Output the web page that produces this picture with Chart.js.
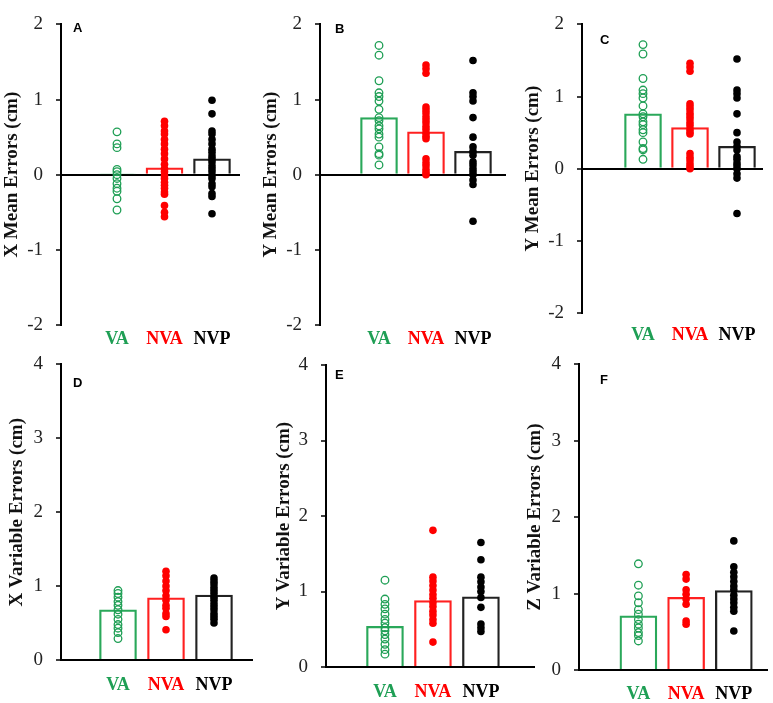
<!DOCTYPE html>
<html lang="en">
<head>
<meta charset="UTF-8">
<title>Mean and variable errors</title>
<style>
  body { margin: 0; background: #fff; }
  #wrap { position: relative; width: 773px; height: 703px; overflow: hidden; }
  #wrap canvas { position: absolute; }
</style>
</head>
<body>
<div id="wrap"></div>
<script src="https://cdn.jsdelivr.net/npm/chart.js@4.4.1/dist/chart.umd.min.js"></script>
<script>
// categories and colours
const categories = ['VA', 'NVA', 'NVP'];
const catColors = ['#1f9f55', '#ff0000', '#000000'];
const letters = ['A', 'B', 'C', 'D', 'E', 'F'];
const yTitles = ['X Mean Errors (cm)', 'Y Mean Errors (cm)', 'Y Mean Errors (cm)',
                 'X Variable Errors (cm)', 'Y Variable Errors (cm)', 'Z Variable Errors (cm)'];

// bar heights (group means)
const meanA = [0.01, 0.09, 0.21];
const meanB = [0.76, 0.57, 0.31];
const meanC = [0.76, 0.57, 0.31];
const meanD = [0.68, 0.84, 0.88];
const meanE = [0.54, 0.88, 0.93];
const meanF = [0.71, 0.95, 1.04];

// individual subjects
const vaA  = [0.57, 0.41, 0.36, 0.07, 0.04, 0, -0.05, -0.12, -0.18, -0.22, -0.32, -0.47];
const nvaA = [0.71, 0.65, 0.58, 0.54, 0.47, 0.41, 0.34, 0.28, 0.21, 0.14, 0.08, 0.04, -0.01, -0.05, -0.1, -0.14, -0.18, -0.23, -0.26, -0.41, -0.5, -0.56];
const nvpA = [0.99, 0.81, 0.58, 0.54, 0.47, 0.41, 0.34, 0.3, 0.25, 0.21, 0.17, 0.12, 0.08, 0.04, -0.01, -0.05, -0.12, -0.16, -0.25, -0.29, -0.52];

const vaB  = [1.72, 1.59, 1.25, 1.09, 1.04, 0.98, 0.87, 0.76, 0.72, 0.65, 0.61, 0.54, 0.5, 0.37, 0.28, 0.26, 0.13];
const nvaB = [1.46, 1.41, 1.35, 0.9, 0.86, 0.82, 0.77, 0.73, 0.69, 0.64, 0.6, 0.55, 0.51, 0.48, 0.21, 0.16, 0.12, 0.07, 0.03, 0];
const nvpB = [1.52, 1.09, 1.04, 0.98, 0.76, 0.5, 0.37, 0.31, 0.26, 0.17, 0.13, 0.08, 0.04, 0, -0.07, -0.13, -0.62];

const vaC  = [1.72, 1.59, 1.25, 1.09, 1.04, 0.98, 0.87, 0.76, 0.72, 0.65, 0.61, 0.54, 0.5, 0.37, 0.28, 0.26, 0.13];
const nvaC = [1.46, 1.41, 1.35, 0.9, 0.86, 0.82, 0.77, 0.73, 0.69, 0.64, 0.6, 0.55, 0.51, 0.48, 0.21, 0.16, 0.12, 0.07, 0.03, 0];
const nvpC = [1.52, 1.09, 1.04, 0.98, 0.76, 0.5, 0.37, 0.31, 0.26, 0.17, 0.13, 0.08, 0.04, 0, -0.07, -0.13, -0.62];

const vaD  = [0.94, 0.9, 0.85, 0.79, 0.74, 0.68, 0.62, 0.55, 0.48, 0.43, 0.37, 0.29];
const nvaD = [1.2, 1.14, 1.07, 1.0, 0.94, 0.87, 0.81, 0.74, 0.7, 0.63, 0.59, 0.41];
const nvpD = [1.11, 1.07, 1.03, 0.98, 0.94, 0.9, 0.85, 0.81, 0.76, 0.72, 0.68, 0.63, 0.59, 0.55, 0.5];

const vaE  = [1.15, 0.9, 0.83, 0.77, 0.7, 0.63, 0.58, 0.52, 0.48, 0.43, 0.37, 0.3, 0.23, 0.17];
const nvaE = [1.81, 1.19, 1.14, 1.08, 1.02, 0.96, 0.91, 0.85, 0.8, 0.74, 0.69, 0.63, 0.58, 0.33];
const nvpE = [1.65, 1.42, 1.19, 1.13, 1.06, 1.0, 0.92, 0.79, 0.57, 0.52, 0.47];

const vaF  = [1.39, 1.11, 0.97, 0.88, 0.79, 0.73, 0.66, 0.6, 0.55, 0.49, 0.45, 0.38];
const nvaF = [1.25, 1.19, 1.05, 0.99, 0.93, 0.86, 0.64, 0.6];
const nvpF = [1.69, 1.35, 1.28, 1.22, 1.16, 1.1, 1.05, 0.98, 0.93, 0.88, 0.82, 0.77, 0.51];

const yRangeTop = [-2, 2];
const yRangeBottom = [0, 4];

// page layout of each panel (pixels)
const panels = [
  { means: meanA, pts: [vaA, nvaA, nvpA], yr: yRangeTop, L: 0, T: 0, W: 255, H: 360, axis: 61, top: 20, bot: 325, right: 240, first: 56, step: 47.5, tOff: 12, lPad: 4, ldx: 12, ldy: 4, xLine: false },
  { means: meanB, pts: [vaB, nvaB, nvpB], yr: yRangeTop, L: 255, T: 0, W: 260, H: 360, axis: 320, top: 20, bot: 325, right: 506, first: 59, step: 47, tOff: 16, lPad: 4, ldx: 15, ldy: 5, xLine: false },
  { means: meanC, pts: [vaC, nvaC, nvpC], yr: yRangeTop, L: 515, T: 0, W: 258, H: 360, axis: 582, top: 10, bot: 313, right: 763, first: 61, step: 47, tOff: 18, lPad: 12, ldx: 18, ldy: 16, xLine: false },
  { means: meanD, pts: [vaD, nvaD, nvpD], yr: yRangeBottom, L: 0, T: 340, W: 260, H: 363, axis: 61, top: 355, bot: 660, right: 252, first: 57, step: 48, tOff: 17.5, lPad: 15, ldx: 12, ldy: 19, xLine: true },
  { means: meanE, pts: [vaE, nvaE, nvpE], yr: yRangeBottom, L: 260, T: 340, W: 280, H: 363, axis: 326, top: 365, bot: 667, right: 535, first: 59, step: 48, tOff: 24.5, lPad: 15, ldx: 9, ldy: 10, xLine: true },
  { means: meanF, pts: [vaF, nvaF, nvpF], yr: yRangeBottom, L: 515, T: 340, W: 258, H: 363, axis: 579, top: 358, bot: 670, right: 773, first: 61, step: 49, tOff: 20.5, lPad: 14, ldx: 21, ldy: 16, xLine: true }
];

const XH = 30;
const serif = '"Liberation Serif", "Times New Roman", serif';
const titleSize = 19;

const letterPlugin = {
  id: 'panelLetter',
  afterDraw(chart, args, opts) {
    const ctx = chart.ctx;
    ctx.save();
    ctx.font = 'bold 13px "Liberation Sans", Arial, sans-serif';
    ctx.fillStyle = '#000';
    ctx.textBaseline = 'middle';
    ctx.textAlign = 'left';
    ctx.fillText(opts.text, chart.chartArea.left + opts.dx, chart.chartArea.top + opts.dy);
    ctx.restore();
  }
};

const wrap = document.getElementById('wrap');

panels.forEach((p, k) => {
  const cv = document.createElement('canvas');
  cv.width = p.W;
  cv.height = p.H;
  cv.style.left = p.L + 'px';
  cv.style.top = p.T + 'px';
  wrap.appendChild(cv);

  const xMin = 1 - p.first / p.step;
  const xMax = xMin + (p.right - p.axis) / p.step;

  const pointSets = p.pts.map((vals, i) => ({
    type: 'scatter',
    data: vals.map(v => ({ x: i + 1, y: v })),
    pointRadius: 3.8,
    pointHoverRadius: 3.8,
    pointBorderWidth: i === 0 ? 1.3 : 0,
    pointBorderColor: catColors[i],
    pointBackgroundColor: i === 0 ? 'rgba(0,0,0,0)' : catColors[i],
    order: 1
  }));

  new Chart(cv, {
    type: 'bar',
    data: {
      datasets: [{
        type: 'bar',
        data: p.means.map((v, i) => ({ x: i + 1, y: v })),
        backgroundColor: 'rgba(0,0,0,0)',
        borderColor: ['#2aa85a', '#ff2020', '#222222'],
        borderWidth: 1.6,
        barThickness: 37,
        order: 2
      }, ...pointSets]
    },
    options: {
      responsive: false,
      animation: false,
      layout: {
        padding: { top: p.top - p.T, right: p.L + p.W - p.right, bottom: p.T + p.H - p.bot - XH, left: 0 }
      },
      plugins: {
        legend: { display: false },
        tooltip: { enabled: false },
        panelLetter: { text: letters[k], dx: p.ldx, dy: p.ldy }
      },
      scales: {
        x: {
          type: 'linear',
          offset: false,
          min: xMin,
          max: xMax,
          afterBuildTicks: s => { s.ticks = categories.map((c, i) => ({ value: i + 1 })); },
          afterFit: s => { s.height = XH; },
          grid: { display: false, drawTicks: false, offset: false },
          border: { display: p.xLine, color: '#000', width: 2 },
          ticks: {
            autoSkip: false,
            maxRotation: 0,
            padding: p.lPad,
            callback: v => categories[v - 1],
            color: c => catColors[c.index],
            font: { family: serif, size: 18, weight: 'bold' }
          }
        },
        y: {
          min: p.yr[0],
          max: p.yr[1],
          afterFit: s => { s.width = p.axis - p.L; },
          grid: {
            color: c => (c.tick && c.tick.value === 0 ? '#000' : 'rgba(0,0,0,0)'),
            lineWidth: 2,
            tickColor: '#000',
            tickWidth: 1.5,
            tickLength: 5
          },
          border: { display: true, color: '#000', width: 2 },
          ticks: {
            stepSize: 1,
            padding: 13,
            color: '#222',
            font: { family: serif, size: 19 }
          },
          title: {
            display: true,
            text: yTitles[k],
            color: '#111',
            padding: { top: p.tOff - titleSize * 0.6, bottom: 0 },
            font: { family: serif, size: titleSize, weight: 'bold' }
          }
        }
      }
    },
    plugins: [letterPlugin]
  });
});
</script>
</body>
</html>
